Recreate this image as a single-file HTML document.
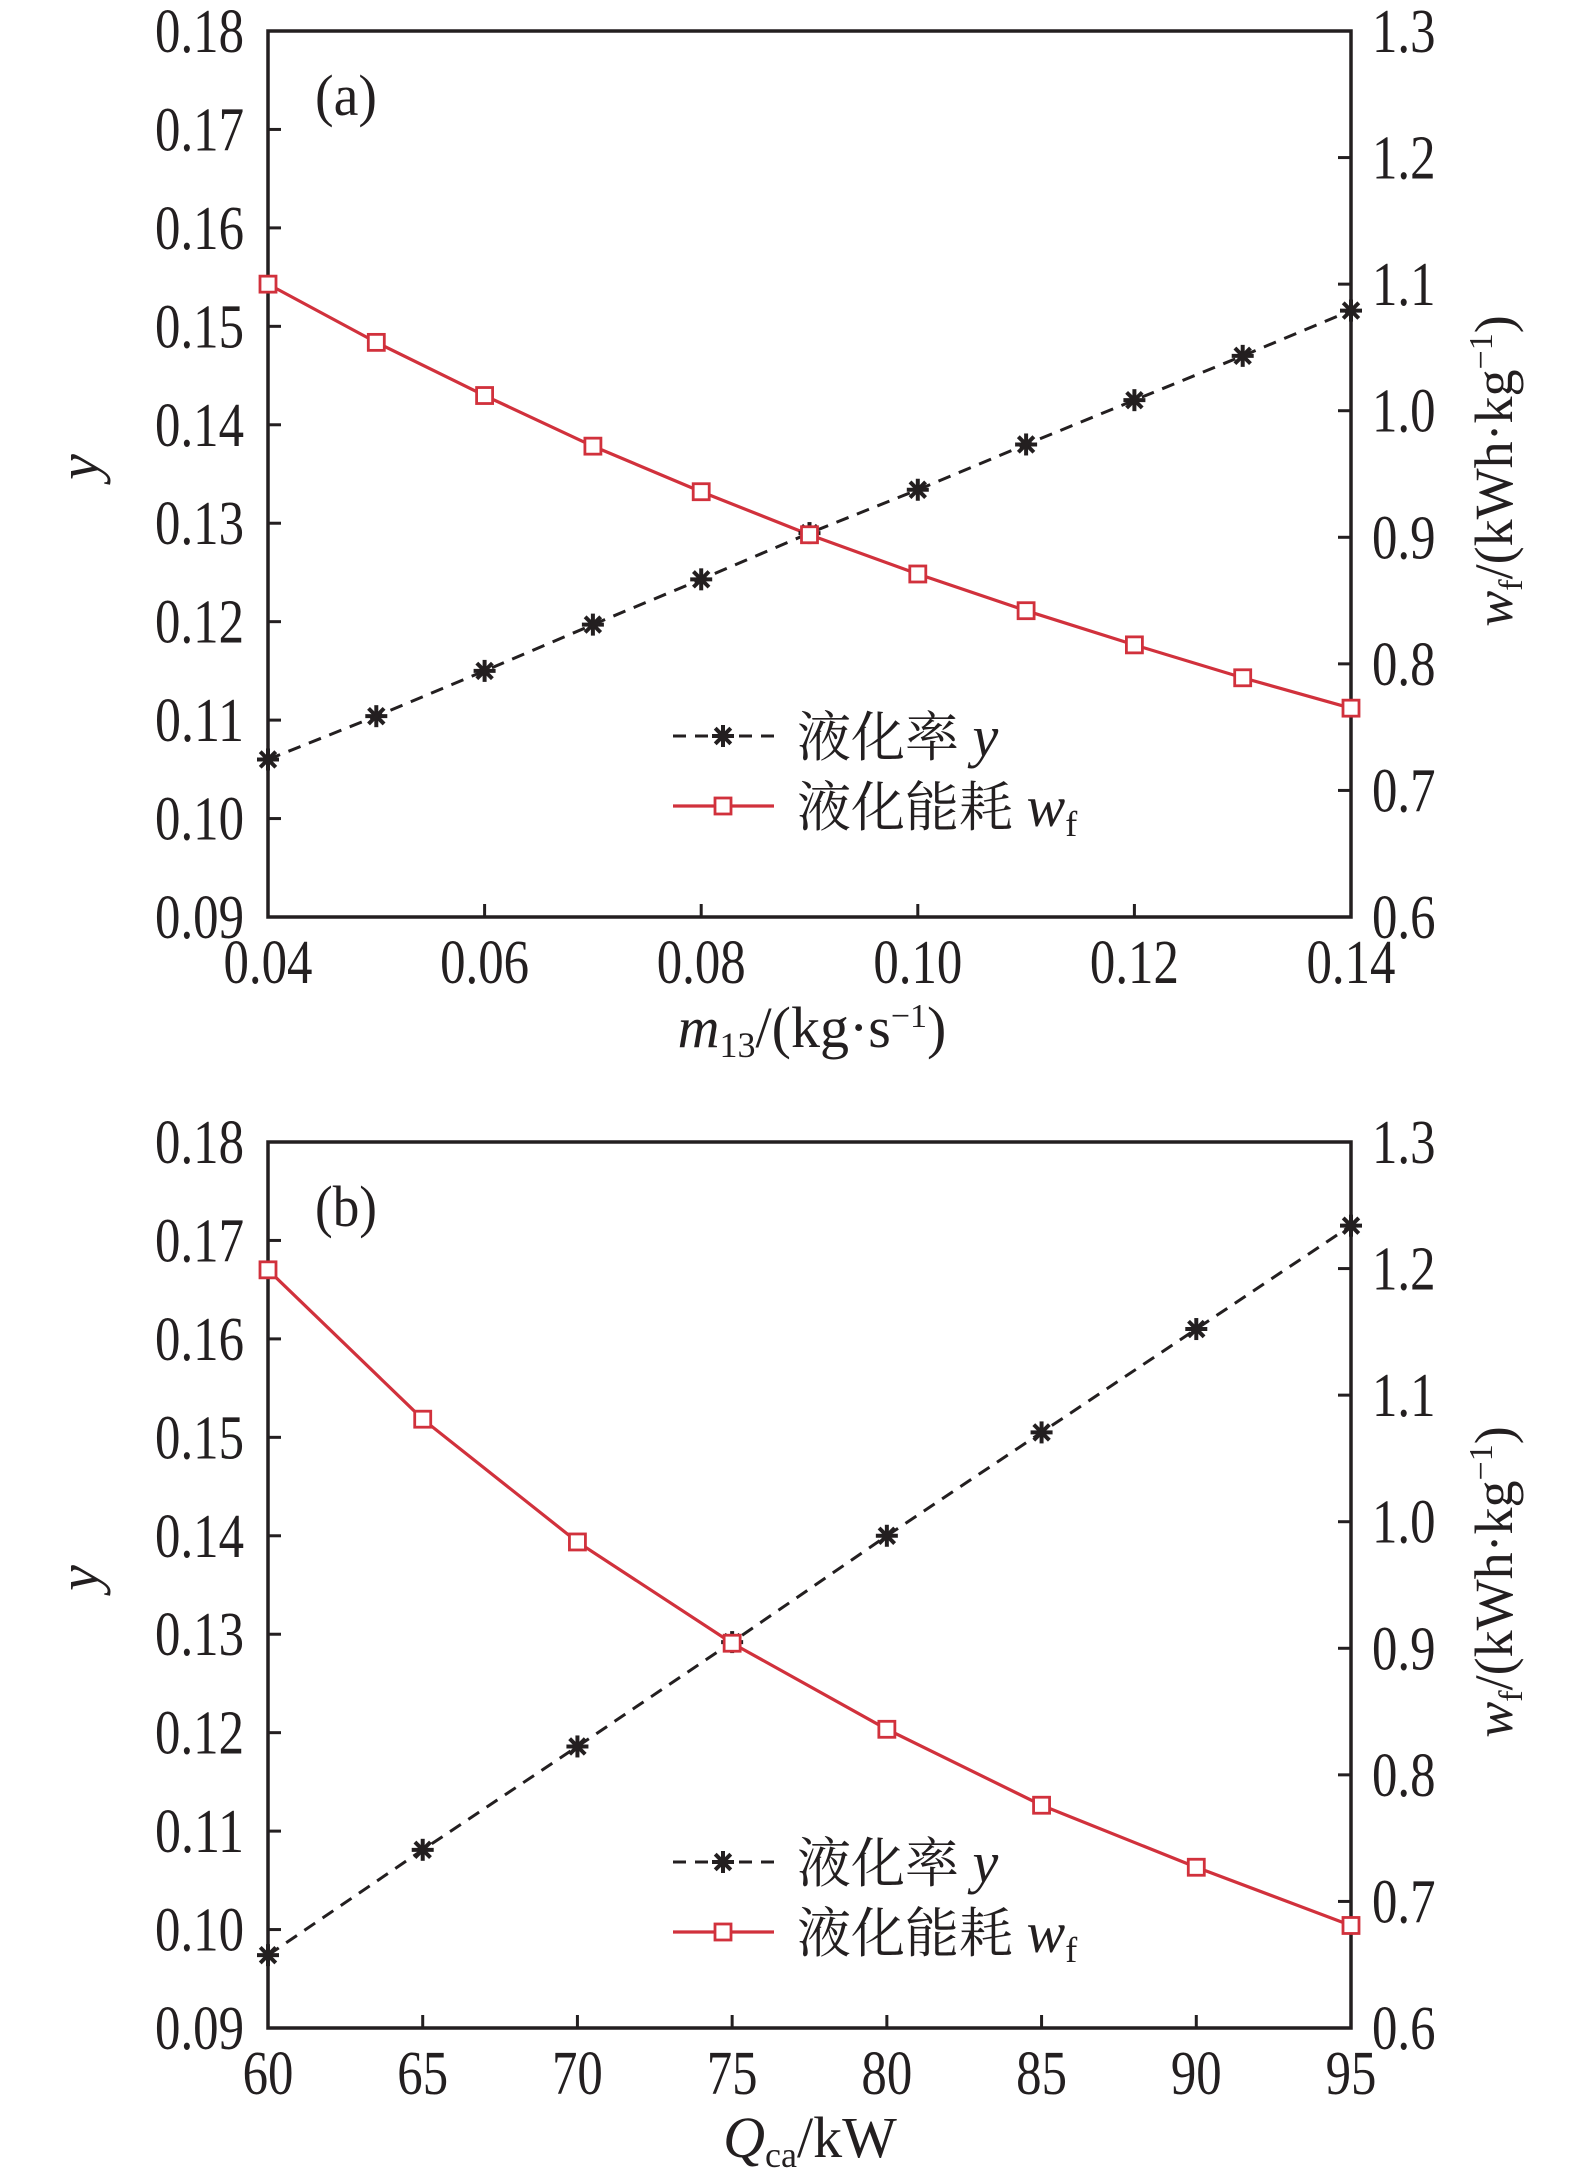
<!DOCTYPE html>
<html><head><meta charset="utf-8"><style>
html,body{margin:0;padding:0;background:#fff;}
svg{display:block;}
text{font-family:"Liberation Serif","Noto Serif CJK SC",serif;fill:#231f20;}
</style></head>
<body>
<svg id="chart" width="1575" height="2183" viewBox="0 0 1575 2183" xmlns="http://www.w3.org/2000/svg"></svg>
<script>
// Panel (a) data
const xA = [0.04,0.05,0.06,0.07,0.08,0.09,0.10,0.11,0.12,0.13,0.14];
const yA = [0.106,0.1104,0.115,0.1197,0.1243,0.129,0.1334,0.138,0.1425,0.147,0.1516];
const wA = [1.100,1.054,1.012,0.972,0.936,0.902,0.871,0.842,0.815,0.789,0.765];
const xTicksA = ["0.04","0.06","0.08","0.10","0.12","0.14"];
// Panel (b) data
const xB = [60,65,70,75,80,85,90,95];
const yB = [0.0974,0.1081,0.1186,0.1292,0.1400,0.1505,0.1610,0.1715];
const wB = [1.199,1.081,0.984,0.904,0.836,0.776,0.727,0.681];
const xTicksB = ["60","65","70","75","80","85","90","95"];
const yTicks = ["0.09","0.10","0.11","0.12","0.13","0.14","0.15","0.16","0.17","0.18"];
const wTicks = ["0.6","0.7","0.8","0.9","1.0","1.1","1.2","1.3"];

const NS = "http://www.w3.org/2000/svg";
const svg = document.getElementById('chart');
const FS = 62;
function mk(tag, attrs, parent){
  const e = document.createElementNS(NS, tag);
  for (const k in attrs) e.setAttribute(k, attrs[k]);
  (parent||svg).appendChild(e);
  return e;
}
function tlen(s){ let w=0; for(const c of s){ w += (c==='.')?0.25:0.5; } return w*FS*0.82; }
function drawPanel(p, xs, ys, ws, xt, top, id, legY){
  const L=268, R=1351, T=top, B=top+886;
  const g = mk('g', {});
  
  
  const x0=parseFloat(xt[0]), x1=parseFloat(xt[xt.length-1]);
  const sx = v => L + (v-x0)/(x1-x0)*(R-L);
  const sy = v => B - (v-0.09)/(0.09)*(B-T);
  const sw = v => B - (v-0.6)/(0.7)*(B-T);
  const fr = mk('rect', {x:L,y:T,width:R-L,height:B-T,fill:'none',stroke:'#231f20','stroke-width':3.5}, g);
  
  
  yTicks.forEach(t=>{
    const v=parseFloat(t), y=sy(v);
    mk('line',{x1:L,x2:L+13,y1:y,y2:y,stroke:'#231f20','stroke-width':3},g);
    const tx = mk('text',{x:244,y:y+21,'font-size':FS,'text-anchor':'end',textLength:tlen(t),lengthAdjust:'spacingAndGlyphs'},g);
    tx.textContent=t;
    
    
  });
  wTicks.forEach(t=>{
    const v=parseFloat(t), y=sw(v);
    mk('line',{x1:R,x2:R-13,y1:y,y2:y,stroke:'#231f20','stroke-width':3},g);
    const tx = mk('text',{x:1372,y:y+21,'font-size':FS,textLength:tlen(t),lengthAdjust:'spacingAndGlyphs'},g);
    tx.textContent=t;
    
    
  });
  xt.forEach(t=>{
    const v=parseFloat(t), x=sx(v);
    mk('line',{x1:x,x2:x,y1:B,y2:B-13,stroke:'#231f20','stroke-width':3},g);
    const tx = mk('text',{x:x,y:B+66,'font-size':FS,'text-anchor':'middle',textLength:tlen(t),lengthAdjust:'spacingAndGlyphs'},g);
    tx.textContent=t;
    
    
  });
  const pl = mk('text',{x:346,y:T+84,'font-size':58,'text-anchor':'middle',textLength:62,lengthAdjust:'spacingAndGlyphs'},g);
  pl.textContent='('+id+')';
  
  
  const py = mk('polyline',{points:xs.map((v,i)=>sx(v)+','+sy(ys[i])).join(' '),fill:'none',stroke:'#231f20','stroke-width':3,'stroke-dasharray':'13,9'},g);
  
  
  const pw = mk('polyline',{points:xs.map((v,i)=>sx(v)+','+sw(ws[i])).join(' '),fill:'none',stroke:'#d1313c','stroke-width':3.2},g);
  
  
  function star(cx,cy,parent){
    const s = mk('g',{},parent);
    
    
    for(let a=0;a<4;a++){
      const ang=a*Math.PI/4, r=11;
      mk('line',{x1:cx-r*Math.cos(ang),y1:cy-r*Math.sin(ang),x2:cx+r*Math.cos(ang),y2:cy+r*Math.sin(ang),stroke:'#231f20','stroke-width':4},s);
    }
  }
  function sq(cx,cy,parent){
    const s = mk('rect',{x:cx-8,y:cy-8,width:16,height:16,fill:'#fff',stroke:'#d1313c','stroke-width':2.8},parent);
    
    
  }
  xs.forEach((v,i)=>star(sx(v),sy(ys[i]),g));
  xs.forEach((v,i)=>sq(sx(v),sw(ws[i]),g));
  const lg = mk('g',{},g);
  
  
  mk('line',{x1:673,x2:774,y1:legY,y2:legY,stroke:'#231f20','stroke-width':3,'stroke-dasharray':'13,9'},lg);
  star(723,legY,lg);
  const t1 = mk('text',{x:797,y:legY+20,'font-size':54},lg);
  t1.innerHTML='<tspan font-family="Noto Serif CJK SC, serif">液化率</tspan> <tspan font-style="italic" font-size="58">y</tspan>';
  
  
  const ly2 = legY+70;
  mk('line',{x1:673,x2:774,y1:ly2,y2:ly2,stroke:'#d1313c','stroke-width':3.2},lg);
  sq(723,ly2,lg);
  const t2 = mk('text',{x:797,y:ly2+20,'font-size':54},lg);
  t2.innerHTML='<tspan font-family="Noto Serif CJK SC, serif">液化能耗</tspan> <tspan font-style="italic" font-size="58">w</tspan><tspan font-size="36" dy="10">f</tspan>';
  
  
  const yt = mk('text',{x:0,y:0,'font-size':58,'font-style':'italic','text-anchor':'middle',transform:'translate(98,'+(T+436)+') rotate(-90)'},g);
  yt.textContent='y';
  
  
  const rt = mk('text',{x:0,y:0,'font-size':54,'text-anchor':'middle',transform:'translate(1512,'+(T+440)+') rotate(-90)'},g);
  rt.innerHTML='<tspan font-style="italic">w</tspan><tspan font-size="34" dy="10">f</tspan><tspan dy="-10">/(kWh·kg</tspan><tspan font-size="34" dy="-20">−1</tspan><tspan dy="20">)</tspan>';
  
  
  return {B};
}
drawPanel('a', xA, yA, wA, xTicksA, 31, 'a', 736);
drawPanel('b', xB, yB, wB, xTicksB, 1142, 'b', 1862);
const xta = mk('text',{x:812,y:1047,'font-size':58,'text-anchor':'middle'});
xta.innerHTML='<tspan font-style="italic">m</tspan><tspan font-size="36" dy="10">13</tspan><tspan dy="-10">/(kg·s</tspan><tspan font-size="34" dy="-20">−1</tspan><tspan dy="20">)</tspan>';


const xtb = mk('text',{x:810,y:2157,'font-size':58,'text-anchor':'middle'});
xtb.innerHTML='<tspan font-style="italic">Q</tspan><tspan font-size="36" dy="10">ca</tspan><tspan dy="-10">/kW</tspan>';


</script>
</body></html>
